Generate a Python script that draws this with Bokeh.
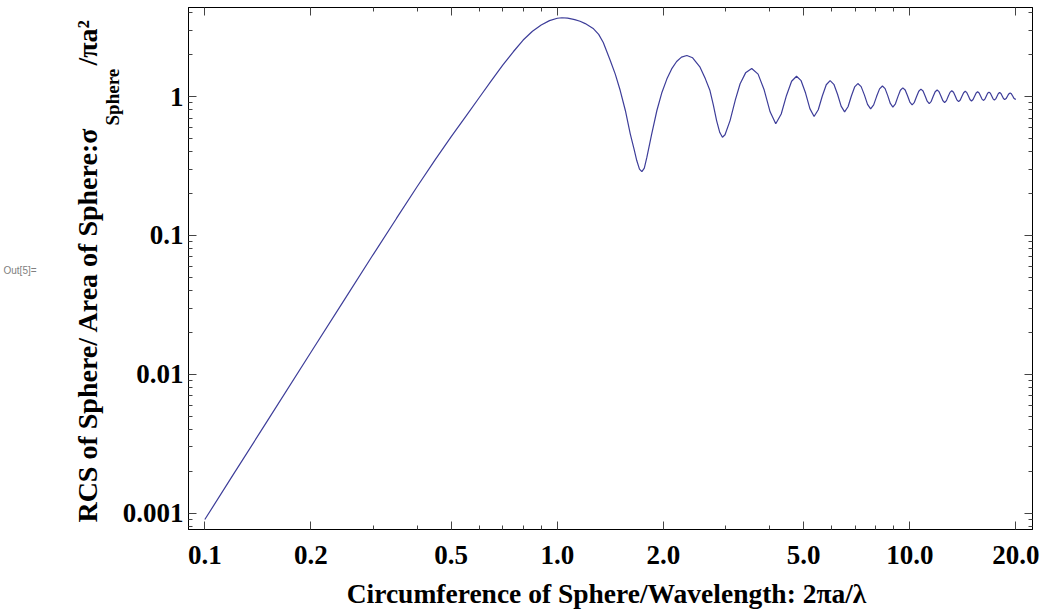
from bokeh.plotting import figure
from bokeh.models import LogAxis, FixedTicker, Label, Title, CustomJSTickFormatter, Range1d
from bokeh.embed import file_html
from bokeh.resources import INLINE

# ---- data ----
ka = [0.1, 0.12, 0.15, 0.2, 0.25, 0.3, 0.35, 0.4, 0.45, 0.5,
      0.55, 0.6, 0.65, 0.7, 0.75, 0.8, 0.85, 0.9, 0.95, 1.0,
      1.03, 1.07, 1.12, 1.16, 1.2, 1.267, 1.31, 1.35, 1.413, 1.46, 1.508, 1.56,
      1.61, 1.65, 1.68, 1.71, 1.737, 1.765, 1.795, 1.85, 1.916, 1.98,
      2.046, 2.11, 2.18, 2.25, 2.33, 2.42, 2.54, 2.63, 2.71, 2.77,
      2.83, 2.89, 2.94, 2.99, 3.09, 3.2, 3.30, 3.42, 3.56,
      3.711, 3.8625, 4.014, 4.165,
      4.316, 4.4675, 4.619, 4.77,
      4.915, 5.06, 5.205, 5.35,
      5.4975, 5.645, 5.7925, 5.94,
      6.0875, 6.235, 6.3825, 6.53,
      6.6775, 6.825, 6.9725, 7.12,
      7.275, 7.43, 7.585, 7.74,
      7.895, 8.05, 8.205, 8.36,
      8.5075, 8.655, 8.8025, 8.95,
      9.1, 9.25, 9.4, 9.55,
      9.7, 9.85, 10.0, 10.15,
      10.3, 10.45, 10.6, 10.75,
      10.9, 11.05, 11.2, 11.35,
      11.5, 11.65, 11.8, 11.95,
      12.1, 12.25, 12.4, 12.55,
      12.7, 12.85, 13.0, 13.15,
      13.3, 13.45, 13.6, 13.75,
      13.9, 14.055, 14.21, 14.36,
      14.51, 14.66, 14.81, 14.96,
      15.11, 15.265, 15.42, 15.57,
      15.72, 15.87, 16.02, 16.17,
      16.32, 16.47, 16.62, 16.77,
      16.92, 17.07, 17.22, 17.37,
      17.52, 17.675, 17.83, 17.98,
      18.13, 18.28, 18.43, 18.58,
      18.75, 18.915, 19.08, 19.25,
      19.41, 19.575, 19.74, 19.9, 20.0]

rcs = [0.0009, 0.00187, 0.00456, 0.0144, 0.0351, 0.0725, 0.133, 0.224, 0.35, 0.515,
       0.72, 0.98, 1.3, 1.68, 2.1, 2.55, 2.95, 3.27, 3.52, 3.66,
       3.69, 3.67, 3.58, 3.48, 3.35, 3.07, 2.80, 2.45, 1.816, 1.45, 1.104, 0.79,
       0.539, 0.42, 0.346, 0.30, 0.288, 0.305, 0.366, 0.53, 0.793, 1.07,
       1.34, 1.58, 1.786, 1.92, 1.973, 1.90, 1.626, 1.34, 1.104, 0.87,
       0.671, 0.55, 0.509, 0.53, 0.671, 0.95, 1.235, 1.48, 1.59,
       1.450, 1.113, 0.776, 0.636,
       0.748, 1.018, 1.288, 1.40,
       1.300, 1.059, 0.818, 0.718,
       0.803, 1.009, 1.215, 1.30,
       1.224, 1.038, 0.852, 0.775,
       0.844, 1.008, 1.172, 1.24,
       1.178, 1.028, 0.878, 0.815,
       0.870, 1.003, 1.135, 1.19,
       1.139, 1.015, 0.891, 0.84,
       0.886, 0.998, 1.109, 1.155,
       1.113, 1.013, 0.912, 0.87,
       0.908, 1.0, 1.092, 1.13,
       1.095, 1.01, 0.925, 0.89,
       0.923, 1.003, 1.082, 1.115,
       1.084, 1.01, 0.936, 0.905,
       0.934, 1.003, 1.071, 1.10,
       1.073, 1.009, 0.945, 0.918,
       0.943, 1.004, 1.065, 1.09,
       1.066, 1.009, 0.952, 0.928,
       0.951, 1.005, 1.059, 1.082,
       1.061, 1.010, 0.958, 0.937,
       0.957, 1.006, 1.055, 1.075,
       1.056, 1.009, 0.962, 0.943,
       0.961, 1.006, 1.050, 1.068,
       1.051, 1.009, 0.967, 0.95,
       0.966, 1.005, 1.044, 1.06,
       1.045, 1.008, 0.970, 0.955, 0.958]

assert len(ka) == len(rcs)

x_major = [0.1, 0.2, 0.5, 1.0, 2.0, 5.0, 10.0, 20.0]
x_labels = ["0.1", "0.2", "0.5", "1.0", "2.0", "5.0", "10.0", "20.0"]
x_minor = [0.3, 0.4, 0.6, 0.7, 0.8, 0.9, 3.0, 4.0, 6.0, 7.0, 8.0, 9.0]
y_major = [0.001, 0.01, 0.1, 1.0]
y_labels = ["0.001", "0.01", "0.1", "1"]
y_minor = [m * 10.0 ** e for e in range(-4, 1) for m in range(2, 10)]

x_title = "Circumference of Sphere/Wavelength: 2\u03c0a/\u03bb"
# gap of en-spaces leaves room for the subscript that sits between sigma and "/pi a^2"
y_title_main = "RCS of Sphere/ Area of Sphere:\u03c3\u2002\u2002\u2002\u2002 /\u03c0a\u00b2"
y_title_sub = "Sphere"

SERIF = "Liberation Serif"
TICK_COLOR = "#444444"

p = figure(width=1040, height=612, output_backend="svg", toolbar_location=None,
           x_axis_type="log", y_axis_type="log",
           x_range=Range1d(0.08989, 22.28), y_range=Range1d(0.000763, 4.374),
           min_border_left=188, min_border_right=8, min_border_top=7, min_border_bottom=83)
p.grid.visible = False
p.outline_line_color = "black"
p.outline_line_width = 1
p.background_fill_color = "white"
p.border_fill_color = "white"

def fmt(tks, lbls):
    return CustomJSTickFormatter(args=dict(tks=tks, lbls=lbls), code="""
        for (let i = 0; i < tks.length; i++) {
            if (Math.abs(tks[i] - tick) <= 1e-6 * tks[i]) return lbls[i];
        }
        return "";
    """)

blank = CustomJSTickFormatter(code='return "";')

def style(ax, ticker, show_labels, formatter=None):
    ax.ticker = ticker
    ax.axis_line_color = "black"
    ax.major_tick_in = 8
    ax.major_tick_out = 0
    ax.minor_tick_in = 4
    ax.minor_tick_out = 0
    ax.major_tick_line_color = TICK_COLOR
    ax.minor_tick_line_color = TICK_COLOR
    if show_labels:
        ax.formatter = formatter
        ax.major_label_text_font = SERIF
        ax.major_label_text_font_style = "bold"
        ax.major_label_text_font_size = "27px"
        ax.major_label_text_color = "black"
    else:
        ax.formatter = blank
        ax.major_label_text_font_size = "1px"
        ax.major_label_standoff = 0
    ax.axis_label = None

xa = p.xaxis[0]
style(xa, FixedTicker(ticks=x_major, minor_ticks=x_minor), True, fmt(x_major, x_labels))
xa.major_label_standoff = 16

style(p.yaxis[0], FixedTicker(ticks=y_major, minor_ticks=y_minor), True, fmt(y_major, y_labels))
p.yaxis[0].major_label_standoff = 5

top = LogAxis()
style(top, FixedTicker(ticks=x_major, minor_ticks=x_minor), False)
p.add_layout(top, "above")
right = LogAxis()
style(right, FixedTicker(ticks=y_major, minor_ticks=y_minor), False)
p.add_layout(right, "right")

p.line(ka, rcs, line_color="#3d3d99", line_width=1.2)

# y title pieces (left panel, stacked outward from the axis)
sub = Title(text=y_title_sub, align="left", offset=404, standoff=-6,
            text_font=SERIF, text_font_style="bold", text_font_size="19px", text_color="black")
p.add_layout(sub, "left")
main = Title(text=y_title_main, align="right", offset=11, standoff=0,
             text_font=SERIF, text_font_style="bold", text_font_size="28px", text_color="black")
p.add_layout(main, "left")

# x title: placed through the plot's own scales, below the frame
XT_X, XT_Y = 1.379, 0.000264
xtl = Label(x=XT_X, y=XT_Y, x_units="data", y_units="data", text=x_title,
            text_align="center", text_baseline="alphabetic",
            text_font=SERIF, text_font_style="bold", text_font_size="27.5px", text_color="black")
p.add_layout(xtl, "below")

# Mathematica output tag
out_tag = Label(x=-33, y=254, x_units="screen", y_units="screen", text="Out[5]=",
                text_font="Liberation Sans", text_font_size="10px", text_color="#808080")
p.add_layout(out_tag, "left")

open("out.html", "w").write(file_html(p, INLINE))
